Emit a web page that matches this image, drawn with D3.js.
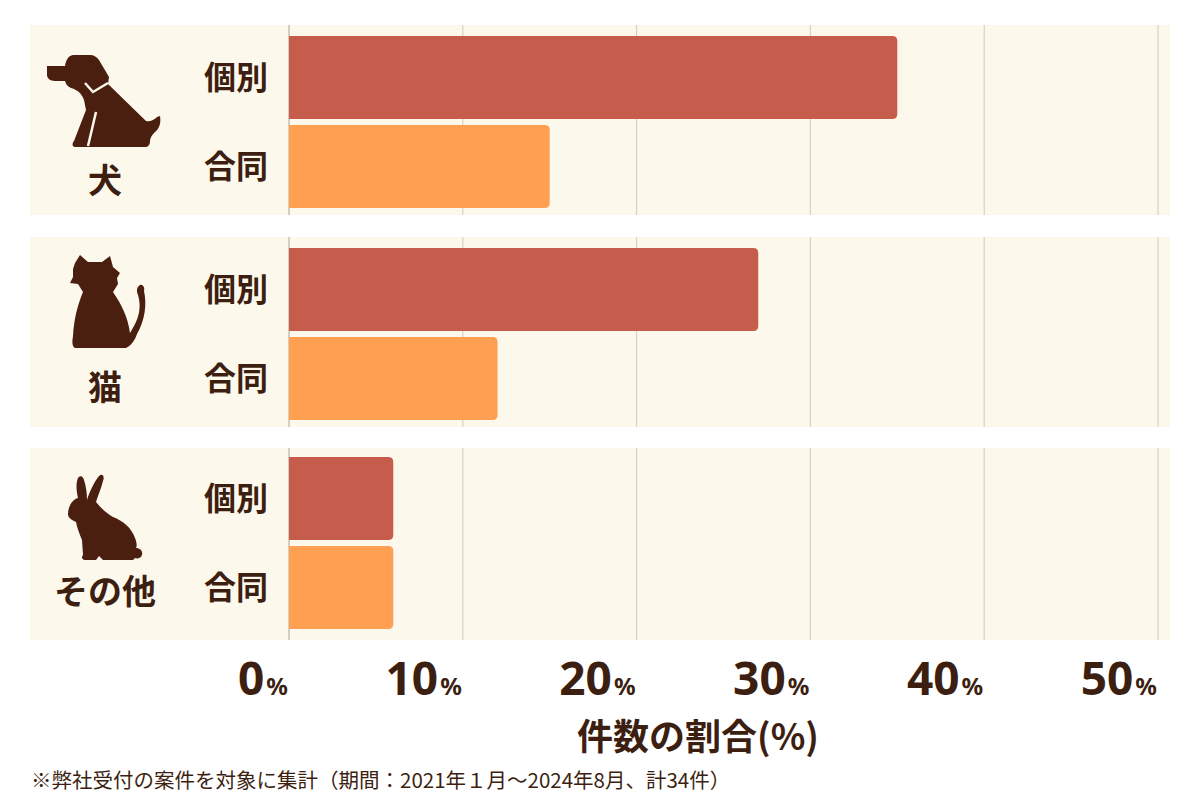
<!DOCTYPE html>
<html><head><meta charset="utf-8">
<script src="https://cdn.jsdelivr.net/npm/d3@7"></script>
<style>
body{margin:0;background:#fff;}
svg{display:block;font-family:"Noto Sans CJK JP","Noto Sans",sans-serif;}
</style></head>
<body><svg id="chart" width="1200" height="800"></svg>
<script>
// ---- data ----
const categories = ["犬", "猫", "その他"];
const subTypes = ["個別", "合同"];
const individualValues = [35, 27, 6]; // 個別 (%)
const jointValues = [15, 12, 6];      // 合同 (%)
const tickValues = [0, 10, 20, 30, 40, 50];
const axisTitle = "件数の割合(%)";
const footnote = "※弊社受付の案件を対象に集計（期間：2021年１月～2024年8月、計34件）";

const colors = {"個別": "#c65c4c", "合同": "#fe9f52"};
const ink = "#3d1f12";

const svg = d3.select("#chart");
const x = d3.scaleLinear().domain([0, 50]).range([289, 1158]);
const yGroup = d3.scaleBand().domain(categories).range([25, 639]).paddingInner(22/212);
const ySub = d3.scaleBand().domain(subTypes).range([11, 183]).paddingInner(6/89);
// small per-panel layout adjustments seen in the reference
const panelAdj = {"犬": {top: 0, extra: 0, bar: 0}, "猫": {top: 0, extra: 0, bar: 0}, "その他": {top: -1, extra: 2, bar: -3}};

const rows = categories.map((c, i) => ({cat: c, values: [
  {type: "個別", v: individualValues[i]},
  {type: "合同", v: jointValues[i]}
]}));

// panels
const g = svg.selectAll("g.panel").data(rows).join("g")
  .attr("class", "panel")
  .attr("transform", d => `translate(0,${yGroup(d.cat)})`);

g.append("rect").attr("x", 30).attr("y", d => panelAdj[d.cat].top)
  .attr("width", 1170 - 30).attr("height", d => yGroup.bandwidth() + panelAdj[d.cat].extra)
  .attr("fill", "#fdf8ec");

// gridlines
g.each(function(row) {
  const adj = panelAdj[row.cat];
  d3.select(this).selectAll("line.grid").data(tickValues).join("line")
    .attr("class", "grid")
    .attr("x1", d => x(d)).attr("x2", d => x(d))
    .attr("y1", adj.top).attr("y2", adj.top + yGroup.bandwidth() + adj.extra)
    .attr("stroke", d => d === 0 ? "#b9b2a6" : "#d8d2c6").attr("stroke-width", 1.2);
});

// bars with rounded right end
function barPath(x0, x1, y0, h, r) {
  r = Math.min(r, (x1 - x0));
  return `M${x0},${y0}H${x1 - r}Q${x1},${y0} ${x1},${y0 + r}V${y0 + h - r}Q${x1},${y0 + h} ${x1 - r},${y0 + h}H${x0}Z`;
}
g.each(function(row) {
  const off = panelAdj[row.cat].bar;
  const sel = d3.select(this);
  sel.selectAll("path.bar").data(row.values).join("path")
    .attr("class", "bar")
    .attr("fill", d => colors[d.type])
    .attr("d", d => barPath(x(0), x(d.v), ySub(d.type) + off, ySub.bandwidth(), 5));
  sel.selectAll("text.sub").data(row.values).join("text")
    .attr("class", "sub")
    .attr("x", 236).attr("y", d => ySub(d.type) + off + ySub.bandwidth() / 2)
    .attr("dy", "0.36em").attr("text-anchor", "middle")
    .attr("font-size", 32).attr("font-weight", 700).attr("fill", ink)
    .text(d => d.type);
});

// category labels
const catLabelY = {"犬": 156, "猫": 151, "その他": 143};
g.append("text")
  .attr("x", 105).attr("y", d => catLabelY[d.cat])
  .attr("dy", "0.36em").attr("text-anchor", "middle")
  .attr("font-size", 34).attr("font-weight", 700).attr("fill", ink)
  .text(d => d.cat);

// icons (decorative silhouettes)
const icons = {
  "犬": {
    path: "M47,66 L65,66 C66,60 68,56 73,55 L90,55 C94,55 97,57 99,60 L109,77 L108,84 L146,121 C150,122 154,120 157,117 L160,116 C161,122 160,128 155,132 C152,135 150,138 150,141 C150,145 148,147 145,147 L75,147 C72,147 72,143 74,141 L86,110 L84,100 C82,94 78,90 71,88 C67,86 66,84 65,81 L55,81 C50,81 47,78 47,75 Z",
    extra: ["M85,83 L93,92 L108,83", "M96,112 L88,146"]
  },
  "猫": {
    path: "M75,263 L80,255 L88,262 L102,262 L110,256 L113,267 L120,273 L117,278 L118,284 L113,292 C122,305 128,318 130,333 L134,326 C140,315 141,305 138,295 C136,290 137,287 140,285 C143,284 145,288 144,291 C147,304 145,320 137,334 C135,340 131,346 126,348 L75,348 C72,346 72,342 73,336 C74,318 78,304 83,292 L78,284 L70,283 L73,277 L73,269 Z",
    extra: []
  },
  "その他": {
    path: "M78,498 C76,490 76,482 78,478 C80,475 83,476 84,480 C86,486 87,493 87,500 C89,493 94,482 99,476 C102,473 105,476 103,481 C101,489 98,495 96,502 C101,508 106,513 113,517 C123,521 131,527 135,538 C137,543 137,546 136,548 C140,548 143,551 142,555 C141,558 138,559 135,558 L133,560 L103,560 L99,556 L96,560 L85,560 C82,560 81,557 83,555 L82,540 C79,533 77,527 76,522 C72,520 68,518 68,514 C68,509 70,504 73,501 C75,499 77,498 78,498 Z",
    extra: []
  }
};
categories.forEach(c => {
  const ic = icons[c];
  svg.append("path").attr("d", ic.path).attr("fill", "#4a1f10");
  ic.extra.forEach(p => svg.append("path").attr("d", p)
    .attr("fill", "none").attr("stroke", "#fdf8ec").attr("stroke-width", 2.5));
});

// x tick labels
const tl = svg.selectAll("text.tick").data(tickValues).join("text")
  .attr("class", "tick")
  .attr("x", d => x(d) - 1).attr("y", 695)
  .attr("text-anchor", "end").attr("fill", ink).attr("font-weight", 700)
  .attr("font-family", "'Noto Sans','Noto Sans CJK JP',sans-serif");
tl.append("tspan").attr("font-size", 46).text(d => d);
tl.append("tspan").attr("font-size", 24).attr("dx", 2).text("%");

// axis title
svg.append("text").attr("x", 698).attr("y", 750)
  .attr("text-anchor", "middle").attr("font-size", 36).attr("font-weight", 700)
  .attr("fill", ink).text(axisTitle);

// footnote
svg.append("text").attr("x", 31).attr("y", 788)
  .attr("font-size", 20.5).attr("fill", ink).text(footnote);
</script></body></html>
